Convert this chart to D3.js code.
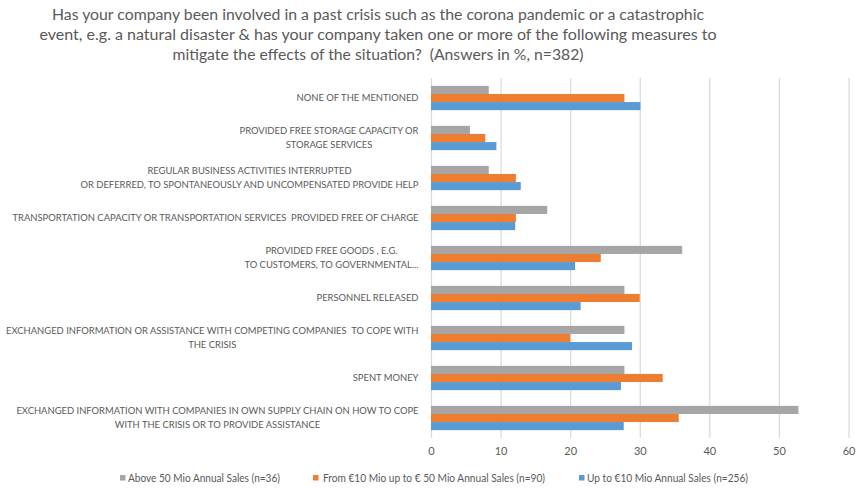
<!DOCTYPE html>
<html>
<head>
<meta charset="utf-8">
<script src="https://cdn.jsdelivr.net/npm/d3@7"></script>
<style>
  html, body { margin: 0; padding: 0; background: #fff; }
  svg { display: block; }
  text { font-family: Lato, "Open Sans", sans-serif; fill: #595959; white-space: pre; }
</style>
</head>
<body>
<svg id="chart" width="857" height="488"></svg>
<script>
// ---------- DATA ----------
const titleLines = [
  "Has your company been involved in a past crisis such as the corona pandemic or a catastrophic",
  "event, e.g. a natural disaster & has your company taken one or more of the following measures to",
  "mitigate the effects of the situation?  (Answers in %, n=382)"
];
const categories = [
  "NONE OF THE MENTIONED",
  "PROVIDED FREE STORAGE CAPACITY OR|STORAGE SERVICES",
  "REGULAR BUSINESS ACTIVITIES INTERRUPTED|OR DEFERRED, TO SPONTANEOUSLY AND UNCOMPENSATED PROVIDE HELP",
  "TRANSPORTATION CAPACITY OR TRANSPORTATION SERVICES  PROVIDED FREE OF CHARGE",
  "PROVIDED FREE GOODS , E.G.|TO CUSTOMERS, TO GOVERNMENTAL...",
  "PERSONNEL RELEASED",
  "EXCHANGED INFORMATION OR ASSISTANCE WITH COMPETING COMPANIES  TO COPE WITH|THE CRISIS",
  "SPENT MONEY",
  "EXCHANGED INFORMATION WITH COMPANIES IN OWN SUPPLY CHAIN ON HOW TO COPE|WITH THE CRISIS OR TO PROVIDE ASSISTANCE"
];
const seriesNames = [
  "Above 50 Mio Annual Sales (n=36)",
  "From €10 Mio up to € 50 Mio Annual Sales (n=90)",
  "Up to €10 Mio Annual Sales (n=256)"
];
const above50 = [8.3, 5.6, 8.3, 16.7, 36.1, 27.8, 27.8, 27.8, 52.8];
const from10to50 = [27.8, 7.8, 12.2, 12.2, 24.4, 30.0, 20.0, 33.3, 35.6];
const upTo10 = [30.1, 9.4, 12.9, 12.1, 20.7, 21.5, 28.9, 27.3, 27.7];
const xTicks = [0, 10, 20, 30, 40, 50, 60];
const seriesColors = ["#A5A5A5", "#ED7D31", "#5B9BD5"];

// ---------- LAYOUT ----------
const svg = d3.select("#chart");
const plot = { left: 431, right: 848.5, top: 78, bottom: 438 };
const titleWidths = [652, 677, 411];
const titleCenter = 378;

const x = d3.scaleLinear().domain([0, 60]).range([plot.left, plot.right]);
const y = d3.scaleBand().domain(categories).range([plot.top, plot.bottom]).padding(0);
const ySub = d3.scaleBand().domain(seriesNames).range([0, y.bandwidth()]).paddingInner(0).paddingOuter(0.97);
const seriesValues = [above50, from10to50, upTo10];

// Title
titleLines.forEach((t, i) => {
  svg.append("text")
    .attr("x", titleCenter).attr("y", 20 + i * 20)
    .attr("text-anchor", "middle")
    .attr("font-size", 15.5)
    .attr("textLength", titleWidths[i])
    .attr("lengthAdjust", "spacingAndGlyphs")
    .text(t);
});

// Gridlines
const xAxis = d3.axisBottom(x).tickValues(xTicks).tickSize(-(plot.bottom - plot.top)).tickPadding(9);
const gx = svg.append("g").attr("transform", `translate(0,${plot.bottom})`).call(xAxis);
gx.select(".domain").remove();
gx.selectAll(".tick line").attr("stroke", "#D9D9D9").attr("stroke-width", 1.2);
gx.selectAll(".tick text").attr("font-size", 11).attr("fill", "#595959")
  .style("font-family", "Lato, 'Open Sans', sans-serif");

// Bars
seriesNames.forEach((s, si) => {
  svg.append("g").selectAll("rect")
    .data(categories.map((c, ci) => ({ c, v: seriesValues[si][ci] })))
    .join("rect")
    .attr("x", x(0))
    .attr("y", d => y(d.c) + ySub(s))
    .attr("width", d => x(d.v) - x(0))
    .attr("height", ySub.bandwidth())
    .attr("fill", seriesColors[si]);
});

// Category labels
const labelRight = 418.5;
categories.forEach(c => {
  const lines = c.split("|");
  const g = svg.append("g");
  const cy = y(c) + y.bandwidth() / 2;
  const lh = 13.6;
  const texts = lines.map((l, i) => g.append("text")
    .attr("y", cy + (i - (lines.length - 1) / 2) * lh)
    .attr("dy", "0.35em")
    .attr("font-size", 9.42)
    .attr("fill", "#5f5f5f")
    .attr("text-anchor", "middle")
    .text(l));
  const maxW = d3.max(texts, t => t.node().getComputedTextLength());
  texts.forEach(t => t.attr("x", labelRight - maxW / 2));
});

// Legend
const legendItems = [
  { sx: 120, tx: 128, w: 152 },
  { sx: 313, tx: 323, w: 222 },
  { sx: 579, tx: 587, w: 161 }
];
seriesNames.forEach((s, i) => {
  const it = legendItems[i];
  svg.append("rect").attr("x", it.sx).attr("y", 475).attr("width", 5.5).attr("height", 5.5)
    .attr("fill", seriesColors[i]);
  svg.append("text").attr("x", it.tx).attr("y", 478).attr("dy", "0.35em")
    .attr("font-size", 10.5)
    .attr("textLength", it.w).attr("lengthAdjust", "spacingAndGlyphs")
    .text(s);
});
</script>
</body>
</html>
